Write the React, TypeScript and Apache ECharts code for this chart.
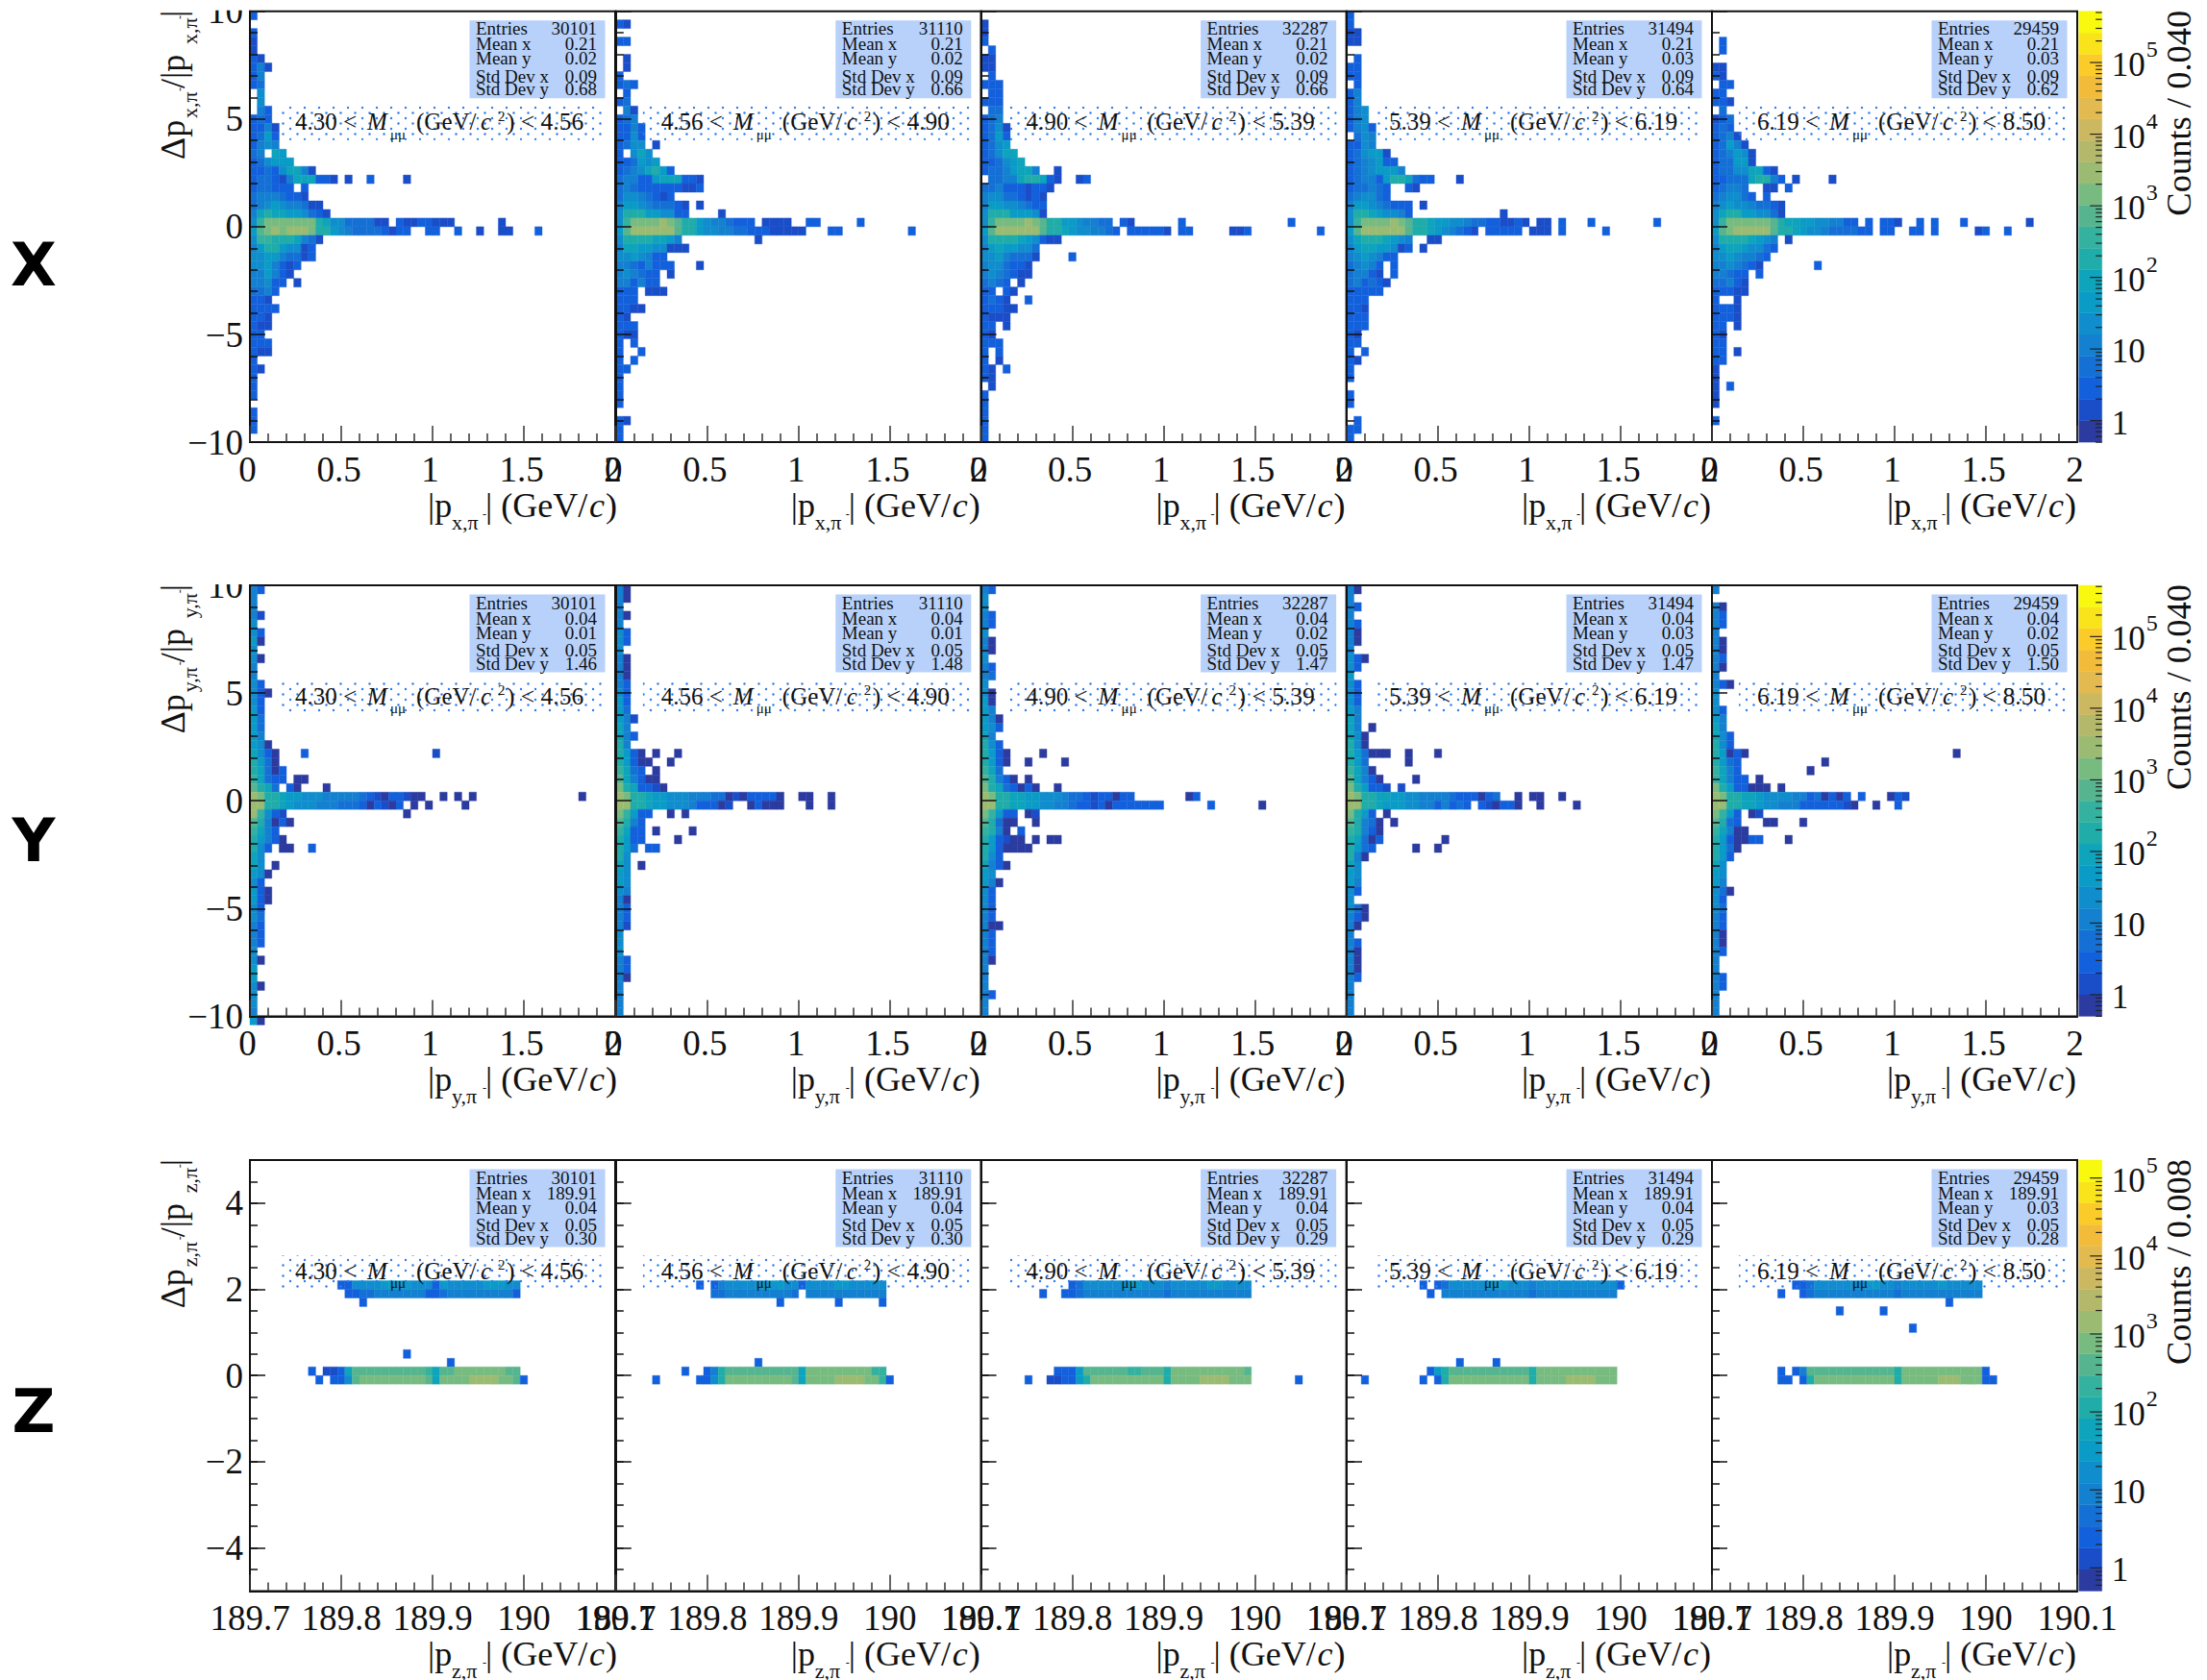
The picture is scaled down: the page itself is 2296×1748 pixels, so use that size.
import React, { useEffect, useRef } from "react";
import * as echarts from "echarts";

// ---------- histogram cells: one string per y-bin from the top, one character per x-bin, "." = empty ----------
const X1 = ["2","","2","1","1","31","351","35","34",".6",".6",".52","243","2351","3472","3565","45.87","346777","334368851","344315888321.1..3....1","344332.2","45554221","4567655411","58a88776421","6bddddddd98664444" + "11.2113311" + "1......1","7cdedeeeda976544442132..33..3..1..11...3","6bba998541","579976613","667754413","6675312","557531","55633.1","4453","321","3222","221","211","32","322","211","2","21","2","3","3","","2","2","2",""];
const X2 = ["","21","","22","",".1",".1","2","242",".3","34",".51","245","2353","2363","3466.1","3.686","334767","34568973","455337888221","454333332113","46654313","5776544421.1","69a9776633....1","6bddddedca976554333.1111..22.....2","7cefeefeca97665544322" + "11111...22.........2","69aa98875..........1","5887766111","6676522","55425332...1","565433.1","553522","332.111","322","3211","21","322","311","2.2","2..2","2.2","22","2","2","2","2","","21","2","3"];
const X3 = ["","1","1","3",".3","11","11",".2","322",".32","232",".44","245","2461","3473","3467","34688","334678","34457885..1",".4455899821..13","4453331221","566443121","577665433","69a977761","6bddddedca97765544.21......3" + "..............2","7ceeeeeeca98766554 3".replace(" ", "") + ".33333" + "1.32.....113.........2","69aa9876211","57877664","66754441....2","5664321","5654311","4542.1","32.21","3431..2","32211","2111","32.1","21","222","2.2","2.1","21.2","21",".1","3","3","3","3","3","3"];
const X4 = ["2","2","11","11","",".3","33","22",".3","25","35","256","356","3562",".465","3365","346771","3456733","34567775","345527998423...1","344543..21","456642","577654322.1","69a876652............1","6bddddedca98776654433" + "1121.11.2...2........2","7cefeefeca98765431.32222.111.2.....2","68a998765..11","578877613.1","5676533","45653.2","45521.2","453421","33322","332","321","222","222","21","22","2.2","21","2","2","","3","3","",".2","22","3"];
const X5 = ["","","",".2",".2","","11","21",".22","22","221",".4","134","243","2451","34751","345761","344771","344668821","334448aa52.1....1","34554..11.3","456643.3","5676654421","68a9776641","6bddddddca88776655 33".replace(" ", "") + ".3.221..2.2...2........1","7cdeeffeca98766544 4433".replace(" ", "") + ".33..22.2.....12..2","69aa98765.1","578876643","66765543","5565421.......2","55433.3","44531","33311","2..1","3221","3221","22.1","21","22","22.1","22","1","1","1.2","1","1","","2","",""];
const Y1 = ["52","5","5","51","6","62","70","6","60","5","5","63","630","63","73","74","74","75","760","8630...2" + ".................1","9740","a8402","b8433.00","ca84.20...0","ed a98776665 5555 4 3 1 0 3 2 1 0 0 ..0.0.0".replace(/ /g, "") + "..............0","eeaa87666555444 30 2 1 0 2 . 0 . 0 ....0".replace(/ /g, ""),"eb621................0","c95020","b852","a7520","962.00..2","86","86.0","760","63","730","730","63","64","53","53","53","6","60","7","7","60","6","6","5","70"];
const Y2 = ["50","50","5","50","5","62","62","6","50","50","50","52","63","73","74","751","85","852","95","a720.0..0","a7300..0","b842.0","c85200","da83310","eda98776665554401 0 3332 0..00..0".replace(/ /g, ""),"eeaa87766653330 1..0 2 000...0..0".replace(/ /g, ""),"db732..0.0","c953","b833.0....0","a733....0","a74.33","96","86.0","76","76","65","50","52","52","51","6","6","6","52","52","50","5","5","5","5"];
const Y3 = ["52","6","6","52","52","6","50","50","6","52","54","6","60","70","75","750","762","85","962","a720....0","a720..0....0","b84","c9520.0","da842020..0","eda98877666544313303 2 .......02".replace(/ /g, ""),"eeaa887766554 331 3 0 33333 3 3 ......2......0".replace(/ /g, ""),"db733.01","c9400..0","b950.2","a73100.0.00","a730000","962","8520","76","750","62","62","62","52","500","52","53","53","50","5","5","5","52","5","5"];
const Y4 = ["50","5","52","5","52","50","50","5","620","63","7","62","63","63","75","85","85.0","860","960","a74000..0...0","a74.....0","b850","c8530....0","da7321.1","eda9887766555 5 4 3 3 3 0 3 4 ..0.00..0".replace(/ /g, ""),"eeaa87776655 3 5 3 4 3 . 3 1 0 3 3 0 ..0....0".replace(/ /g, ""),"da73.0","c9540.0","b9530","a8402........0","a743.....0..0","950","86","76","75","62","6","640","530","50","5","53","50","50","50","53","5","5","5","5"];
const Y5 = ["5","","50","52","52","5","50","50","52","50","5","520","6","6","62","75","85","862","962","a7030" + "............................0","a743...........0","b852.........0","b8533.0","da733000.0","eda98876666552403 0 3 . 3 ...0 2 1".replace(/ /g, ""),"eeaa88766555 3 3 3 3 3 3 1 0 ..0..2".replace(/ /g, ""),"db73.01","c943...00...0","b8500","a730022...0","a740","972","86","76","75","640","63","64","53","53","50","50","53","5","5","53","52","5","5","5"];
const Z1: [number, number, string][] = [[14,12,"336666777766627666667776 6".replace(" ","")],[15,13,"2344555555532" + "4555555555" + "3"],[16,15,"3"],[22,21,"2"],[23,27,"2"],[24,8,"2.1138ccccccccccb8ccdddddddcc"],[25,9,"2.336cdddddddddc8ddddffffddc2"]];
const Z2: [number, number, string][] = [[14,11,"2.35666667776 63666677 66666".replace(/ /g,"")],[15,13,"445555555554.55555555555"],[16,22,"2"],[16,30,"2"],[16,36,"2"],[23,19,"2"],[24,9,"2..259cccccccccc8dddddddddbb"],[25,5,"2.....236adddddddddc8ddddffffddb2"]];
const Z3: [number, number, string][] = [[14,12,"3466666677666566666776666"],[15,8,"2..234555555555554" + "55555555555"],[24,10,"2237ccccccbbccc9ddddddddddc"],[25,6,"2..11227adddddddddd9ddddffffddd......2"]];
const Z4: [number, number, string][] = [[14,10,"2.34666667776665666666666663"],[15,11,"2.55555555555545555555555 5".replace(" ","")],[23,15,"2"],[23,20,"2"],[24,11,"37acccccccccccaddddddddddd"],[25,2,"2.......2.3adddddddddddaddddffffddd"]];
const Z5: [number, number, string][] = [[14,11,"3346666666776656666676 6666".replace(" ","")],[15,9,"2..3455555555555455555555555"],[16,32,"2"],[17,17,"2"],[17,23,"2"],[19,27,"2"],[24,9,"2.25ccccccccccccaddddddddddd2"],[25,9,"22.3adddddddddddadddddfffddd22"]];

// ---------- panel annotations ----------
const massEdges = ["4.30", "4.56", "4.90", "5.39", "6.19", "8.50"];
const massTextOffset = [47, 47, 47, 44, 47];
const entries = ["30101", "31110", "32287", "31494", "29459"];
const meanXRows = [["0.21","0.21","0.21","0.21","0.21"], ["0.04","0.04","0.04","0.04","0.04"], ["189.91","189.91","189.91","189.91","189.91"]];
const meanYRows = [["0.02","0.02","0.02","0.03","0.03"], ["0.01","0.01","0.02","0.03","0.02"], ["0.04","0.04","0.04","0.04","0.03"]];
const stdXRows = [["0.09","0.09","0.09","0.09","0.09"], ["0.05","0.05","0.05","0.05","0.05"], ["0.05","0.05","0.05","0.05","0.05"]];
const stdYRows = [["0.68","0.66","0.66","0.64","0.62"], ["1.46","1.48","1.47","1.47","1.50"], ["0.30","0.30","0.29","0.29","0.28"]];
const rowLetters = ["X", "Y", "Z"];
const rowAxis = ["x", "y", "z"];
const colorbarTitles = ["Counts / 0.040", "Counts / 0.040", "Counts / 0.008"];

// ---------- colours ----------
const bandColors = ["#2b3ba0","#1a4dc8","#1360dc","#1570d6","#1480d0","#0f8dcc","#0a9bc7","#0ea4bb","#20aca9","#35b29f","#56b58f","#78bb80","#9bbb72","#b4b86a","#cdb862","#e3ba4f","#f2bc3a","#fbcb29","#f9e31b","#f8f90f"];
const levelBand = [0,1,2,2,3,4,5,6,7,8,8,9,10,11,12,12];

// ---------- geometry ----------
const W = 2296, H = 1748;
const panelLefts = [260, 640.8, 1020.6, 1401, 1781];
const titleShift = [0, -3, -3, -3, -3];
const PANEL_W = 380, PANEL_H = 448.4;
const rowTops = [11.7, 609, 1207];
const CB_X = 2162.7, CB_W = 24;
const SERIF = "Liberation Serif";

const xRanges = [[0, 2], [0, 2], [189.7, 190.1]];
const yRanges = [[-10, 10], [-10, 10], [-5, 5]];
const cbRanges = [[0.5, 5.2e5], [0.5, 5.2e5], [0.506, 1.7e5]];
const cbMultipliers = [1, 2, 3, 4, 5, 6, 7, 8, 9];
const cbDecades = [0.1, 1, 10, 100, 1000, 10000, 100000];

const rowsOf = (rows: string[]) => rows.flatMap((s, r) => [...s].map((ch, c) => [r, c, ch] as [number, number, string]));
const sparseOf = (rows: [number, number, string][]) => rows.flatMap(([r, s, str]) => [...str].map((ch, i) => [r, s + i, ch] as [number, number, string]));
const panelCells = [
  [X1, X2, X3, X4, X5].map(rowsOf),
  [Y1, Y2, Y3, Y4, Y5].map(rowsOf),
  [Z1, Z2, Z3, Z4, Z5].map(sparseOf),
];

function txt(x: number, y: number, text: string, o: any = {}) {
  return {
    type: "text", x, y, z: 20, silent: true,
    rotation: o.rotation ?? 0,
    style: {
      text, x: 0, y: 0,
      fill: o.fill ?? "#111",
      fontFamily: o.family ?? SERIF,
      fontSize: o.size ?? 35,
      fontStyle: o.italic ? "italic" : "normal",
      fontWeight: o.weight ?? "normal",
      align: o.align ?? "left", textAlign: o.align ?? "left",
      verticalAlign: "middle", textVerticalAlign: "middle",
    },
  };
}

function dotPattern() {
  const c = document.createElement("canvas");
  c.width = 15; c.height = 11;
  const g = c.getContext("2d")!;
  g.fillStyle = "#2a7df2";
  g.beginPath(); g.arc(2, 2, 1.2, 0, 7); g.fill();
  g.beginPath(); g.arc(9.5, 7.5, 1.2, 0, 7); g.fill();
  return { image: c, repeat: "repeat" };
}

function buildOption() {
  const grids: any[] = [], xAxes: any[] = [], yAxes: any[] = [], series: any[] = [], graphic: any[] = [];
  const pattern = dotPattern();
  const axisFont = { fontFamily: SERIF, fontSize: 37, color: "#111" };

  rowTops.forEach((top, row) => {
    const [x0, x1] = xRanges[row];
    const [y0, y1] = yRanges[row];
    const xBin = (x1 - x0) / 50, yBin = (y1 - y0) / 50;
    const dy = top - 11.7;
    panelLefts.forEach((left, p) => {
      const gi = grids.length;
      grids.push({ left, top, width: PANEL_W, height: PANEL_H, show: true, borderColor: "#111", borderWidth: 2, backgroundColor: "transparent", containLabel: false, outerBoundsMode: "none" });
      xAxes.push({
        gridIndex: gi, type: "value", min: x0, max: x1, interval: row === 2 ? 0.1 : 0.5, z: 5,
        splitLine: { show: false }, minorSplitLine: { show: false },
        axisLine: { onZero: false, lineStyle: { color: "#111", width: 2 } },
        axisTick: { inside: true, length: 17, lineStyle: { color: "#333", width: 1.5 } },
        minorTick: { show: true, splitNumber: 5, length: 9, lineStyle: { color: "#333", width: 1.5 } },
        axisLabel: { ...axisFont, margin: 10, showMinLabel: true, showMaxLabel: true, hideOverlap: false, ...(row === 2 ? {} : { padding: [0, 5, 0, 0] }) },
      });
      const isFirst = p === 0;
      const yAxisIndex = yAxes.length;
      yAxes.push({
        gridIndex: gi, type: "value", min: y0, max: y1, interval: row === 2 ? 0.5 : 5, z: 5,
        splitLine: { show: false }, minorSplitLine: { show: false },
        axisLine: { onZero: false, lineStyle: { color: "#111", width: 2 } },
        axisTick: { inside: true, length: row === 2 ? 8 : 16, lineStyle: { color: "#111", width: 1.5 } },
        minorTick: { show: row !== 2, splitNumber: 5, length: 8, lineStyle: { color: "#111", width: 1.5 } },
        axisLabel: {
          show: isFirst, ...axisFont, margin: 7,
          ...(row === 2 ? { customValues: [-4, -2, 0, 2, 4] } : {}),
          formatter: (v: number) => String(v).replace("-", "\u2212"),
        },
      });
      if (row === 2) {
        yAxes.push({
          gridIndex: gi, type: "value", min: y0, max: y1, position: "left", z: 5,
          splitLine: { show: false },
          axisLine: { show: false, onZero: false },
          axisTick: { inside: true, length: 16, customValues: [-4, -2, 0, 2, 4], lineStyle: { color: "#111", width: 1.5 } },
          axisLabel: { show: false },
        });
      }
      const data = panelCells[row][p]
        .filter(([, , ch]) => ch !== ".")
        .map(([r, c, ch]) => [x0 + c * xBin, y1 - r * yBin, parseInt(ch, 16)]);
      series.push({
        type: "custom", xAxisIndex: gi, yAxisIndex, z: 2, silent: true, clip: false,
        encode: { x: 0, y: 1 }, data,
        renderItem: (_: any, api: any) => {
          const a = api.coord([api.value(0), api.value(1)]);
          const b = api.coord([api.value(0) + xBin, api.value(1) - yBin]);
          const fill = bandColors[levelBand[api.value(2)]];
          return { type: "rect", shape: { x: a[0], y: a[1], width: b[0] - a[0], height: b[1] - a[1] }, style: { fill, stroke: fill, lineWidth: 0.4 } };
        },
      });

      // stats box
      graphic.push({ type: "rect", z: 15, silent: true, shape: { x: left + 228.5, y: top + 9.5, width: 141, height: 81 }, style: { fill: "#b7d1fb" } });
      const statLabels = ["Entries", "Mean x", "Mean y", "Std Dev x", "Std Dev y"];
      const statValues = [entries[p], meanXRows[row][p], meanYRows[row][p], stdXRows[row][p], stdYRows[row][p]];
      const statDy = [18, 34, 49, 67.5, 81];
      statLabels.forEach((s, i) => {
        graphic.push(txt(left + 235, top + statDy[i], s, { size: 19 }));
        graphic.push(txt(left + 361, top + statDy[i], statValues[i], { size: 19, align: "right" }));
      });
      // mass window
      graphic.push({ type: "rect", z: 15, silent: true, shape: { x: left + 28, y: top + 99, width: 342, height: 35 }, style: { fill: pattern } });
      const m = massTextOffset[p];
      const my = top + 115;
      graphic.push(txt(left + m, my, `${massEdges[p]} <`, { size: 25 }));
      graphic.push(txt(left + m + 75, my, "M", { size: 25, italic: true }));
      graphic.push(txt(left + m + 99, my + 13, "\u03bc\u03bc", { size: 15 }));
      graphic.push(txt(left + m + 126, my, "(GeV/", { size: 25 }));
      graphic.push(txt(left + m + 193, my, "c", { size: 25, italic: true }));
      graphic.push(txt(left + m + 211, my - 6, "2", { size: 15 }));
      graphic.push(txt(left + m + 220, my, `) < ${massEdges[p + 1]}`, { size: 25.5 }));
      // x title
      const tb = top + PANEL_H + 66;
      const tl = left + titleShift[p];
      graphic.push(txt(tl + 185, tb, "|p", { size: 36 }));
      graphic.push(txt(tl + 210, tb + 17, `${rowAxis[row]},\u03c0`, { size: 22 }));
      graphic.push(txt(tl + 242, tb + 9, "-", { size: 12 }));
      graphic.push(txt(tl + 245, tb, "| (GeV/", { size: 36 }));
      graphic.push(txt(tl + 353, tb, "c", { size: 36, italic: true }));
      graphic.push(txt(tl + 370, tb, ")", { size: 36 }));
    });

    // y title (rotated parts)
    const R = Math.PI / 2;
    graphic.push(txt(180, 166 + dy, "\u0394p", { size: 36, rotation: R }));
    graphic.push(txt(197, 123 + dy, `${rowAxis[row]},\u03c0`, { size: 22, rotation: R }));
    graphic.push(txt(187, 95 + dy, "-", { size: 12, rotation: R }));
    graphic.push(txt(180, 92 + dy, "/|p", { size: 36, rotation: R }));
    graphic.push(txt(197, 46 + dy, `${rowAxis[row]},\u03c0`, { size: 22, rotation: R }));
    graphic.push(txt(187, 20 + dy, "-", { size: 12, rotation: R }));
    graphic.push(txt(180, 18 + dy, "|", { size: 36, rotation: R }));
    // row letter
    graphic.push(txt(35, [275, 874, 1468][row], rowLetters[row], { size: 62, weight: "bold", family: "DejaVu Sans", align: "center", fill: "#000" }));
    // colourbar title
    graphic.push(txt(2266, top + 213, colorbarTitles[row], { size: 36.5, rotation: R }));

    // colourbar
    const gi = grids.length;
    const [c0, c1] = cbRanges[row];
    grids.push({ left: CB_X, top, width: CB_W, height: PANEL_H, show: false, containLabel: false, outerBoundsMode: "none" });
    xAxes.push({ gridIndex: gi, type: "value", min: 0, max: 1, show: false });
    const yi = yAxes.length;
    yAxes.push({
      gridIndex: gi, type: "log", logBase: 10, min: c0, max: c1, position: "right", z: 6,
      splitLine: { show: false }, axisLine: { show: false }, axisTick: { show: false }, minorTick: { show: false },
      axisLabel: {
        show: true, margin: 10, showMinLabel: true, showMaxLabel: true, padding: [0, 0, 6, 0],
        formatter: (v: number) => {
          const e = Math.log10(v);
          if (Math.abs(e - Math.round(e)) > 1e-6 || e < -0.5) return "";
          const n = Math.round(e);
          return n === 0 ? "{n|1}" : n === 1 ? "{n|10}" : `{n|10}{s|${n}}`;
        },
        rich: {
          n: { fontFamily: SERIF, fontSize: 35, color: "#111", lineHeight: 46, verticalAlign: "bottom" },
          s: { fontFamily: SERIF, fontSize: 24, color: "#111", lineHeight: 46, verticalAlign: "top", padding: [0, 0, 0, 1] },
        },
      },
    });
    const bands = bandColors.map((_, i) => [0, c0 * Math.pow(c1 / c0, i / 20), c0 * Math.pow(c1 / c0, (i + 1) / 20), i]);
    series.push({
      type: "custom", xAxisIndex: gi, yAxisIndex: yi, z: 2, silent: true, clip: false, encode: { x: 0, y: [1, 2] }, data: bands,
      renderItem: (_: any, api: any) => {
        const a = api.coord([0, api.value(2)]);
        const b = api.coord([1, api.value(1)]);
        const fill = bandColors[api.value(3)];
        return { type: "rect", shape: { x: a[0], y: a[1], width: b[0] - a[0], height: b[1] - a[1] }, style: { fill, stroke: fill, lineWidth: 0.4 } };
      },
    });
    const tickData = cbDecades.flatMap((d) => cbMultipliers.map((m) => [1, d * m, m === 1 ? 1 : 0])).filter((t) => t[1] >= c0 && t[1] <= c1);
    series.push({
      type: "custom", xAxisIndex: gi, yAxisIndex: yi, z: 3, silent: true, clip: false, encode: { x: 0, y: 1 }, data: tickData,
      renderItem: (_: any, api: any) => {
        const p = api.coord([1, api.value(1)]);
        const len = api.value(2) ? 12.5 : 6.5;
        return { type: "line", shape: { x1: p[0], y1: p[1], x2: p[0] - len, y2: p[1] }, style: { stroke: "#222", lineWidth: 1.2 } };
      },
    });
  });

  // the frame clips the top "10" labels in the reference
  graphic.push({ type: "rect", z: 12, silent: true, shape: { x: 206, y: 0, width: 53, height: 10.7 }, style: { fill: "#fff" } });
  graphic.push({ type: "rect", z: 12, silent: true, shape: { x: 206, y: 585, width: 53, height: 23 }, style: { fill: "#fff" } });

  return { animation: false, backgroundColor: "#fff", grid: grids, xAxis: xAxes, yAxis: yAxes, series, graphic: { elements: graphic } };
}

export default function App() {
  const ref = useRef<HTMLDivElement>(null);
  useEffect(() => {
    document.body.style.margin = "0";
    const chart = echarts.init(ref.current!, undefined, { renderer: "svg" });
    chart.setOption(buildOption() as any);
    return () => chart.dispose();
  }, []);
  return <div ref={ref} style={{ width: W, height: H }} />;
}
